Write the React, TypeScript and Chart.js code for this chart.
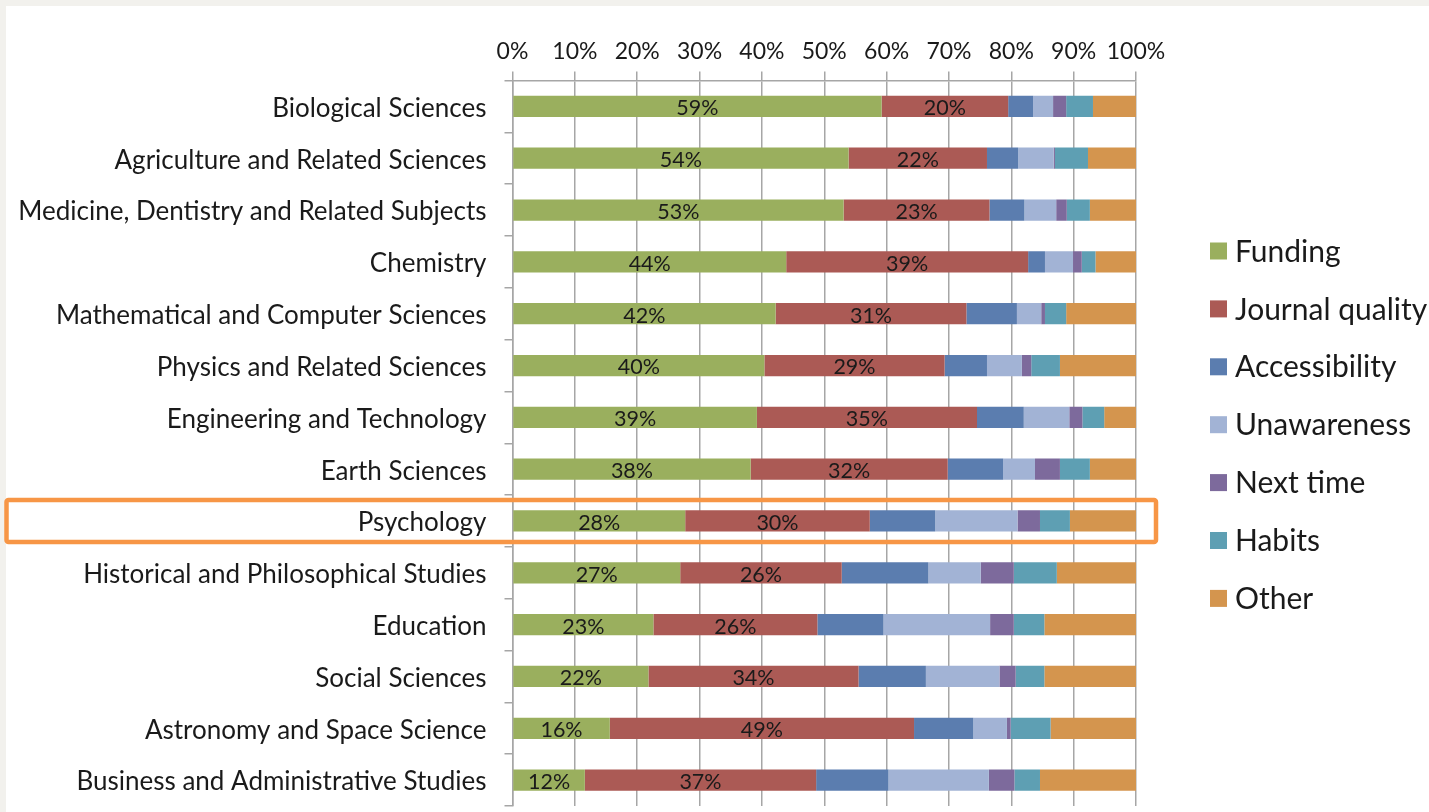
import React, { useEffect, useRef } from "react";
import { Chart, registerables } from "chart.js";

Chart.register(...registerables);

const categories = [
  "Biological Sciences",
  "Agriculture and Related Sciences",
  "Medicine, Dentistry and Related Subjects",
  "Chemistry",
  "Mathematical and Computer Sciences",
  "Physics and Related Sciences",
  "Engineering and Technology",
  "Earth Sciences",
  "Psychology",
  "Historical and Philosophical Studies",
  "Education",
  "Social Sciences",
  "Astronomy and Space Science",
  "Business and Administrative Studies",
];

const funding = [59.2, 53.9, 53.1, 43.9, 42.2, 40.4, 39.2, 38.2, 27.7, 26.9, 22.6, 21.8, 15.6, 11.6];
const journalQuality = [20.3, 22.2, 23.4, 38.8, 30.6, 28.9, 35.3, 31.6, 29.6, 25.9, 26.3, 33.7, 48.8, 37.1];
const accessibility = [4.0, 5.0, 5.6, 2.7, 8.1, 6.8, 7.5, 8.9, 10.5, 13.9, 10.6, 10.8, 9.5, 11.6];
const unawareness = [3.2, 5.7, 5.1, 4.5, 3.9, 5.6, 7.3, 5.1, 13.2, 8.4, 17.1, 11.8, 5.4, 16.1];
const nextTime = [2.1, 0.2, 1.7, 1.4, 0.6, 1.5, 2.1, 4.0, 3.6, 5.3, 3.8, 2.6, 0.6, 4.1];
const habits = [4.3, 5.3, 3.7, 2.2, 3.4, 4.6, 3.5, 4.8, 4.8, 6.9, 4.9, 4.6, 6.4, 4.1];
const other = [6.9, 7.7, 7.4, 6.5, 11.2, 12.2, 5.1, 7.4, 10.6, 12.7, 14.7, 14.7, 13.7, 15.4];

const seriesNames = ["Funding", "Journal quality", "Accessibility", "Unawareness", "Next time", "Habits", "Other"];
const seriesColors = ["#9aaf5e", "#ab5a55", "#5b7daf", "#a2b3d5", "#7d6a9c", "#5e9fb3", "#d4954e"];
const xTicks = [0, 10, 20, 30, 40, 50, 60, 70, 80, 90, 100];
const labelledSeries = [0, 1];
const highlightCategory = "Psychology";

const FONT = "Lato, 'Noto Sans', sans-serif";

const dataLabelPlugin = {
  id: "segmentLabels",
  afterDatasetsDraw(chart: any) {
    const ctx = chart.ctx;
    ctx.save();
    ctx.font = `21.5px ${FONT}`;
    ctx.fillStyle = "#1a1a1a";
    ctx.textAlign = "center";
    ctx.textBaseline = "middle";
    labelledSeries.forEach((di) => {
      const meta = chart.getDatasetMeta(di);
      meta.data.forEach((el: any, i: number) => {
        const v = chart.data.datasets[di].data[i] as number;
        const x = (el.x + el.base) / 2;
        ctx.fillText(`${Math.round(v)}%`, x, el.y + 2);
      });
    });
    ctx.restore();
  },
};

const sideLegendPlugin = {
  id: "sideLegend",
  afterDraw(chart: any) {
    const ctx = chart.ctx;
    const area = chart.chartArea;
    ctx.save();
    ctx.font = `30px ${FONT}`;
    ctx.textBaseline = "middle";
    ctx.textAlign = "left";
    const x0 = area.right + 74;
    const y0 = 251;
    const step = 57.9;
    chart.data.datasets.forEach((ds: any, i: number) => {
      const cy = y0 + i * step;
      ctx.fillStyle = ds.backgroundColor;
      ctx.fillRect(x0, cy - 8.5, 17, 17);
      ctx.fillStyle = "#1a1a1a";
      ctx.fillText(ds.label, x0 + 25, cy + 1);
    });
    ctx.restore();
  },
};

const highlightPlugin = {
  id: "highlightRow",
  afterDraw(chart: any) {
    const ctx = chart.ctx;
    const yScale = chart.scales.y;
    const idx = categories.indexOf(highlightCategory);
    const cy = yScale.getPixelForValue(idx);
    const left = 6.5;
    const right = chart.chartArea.right + 20;
    const top = cy - 21;
    const bottom = cy + 21;
    ctx.save();
    ctx.strokeStyle = "#f79646";
    ctx.lineWidth = 4.5;
    ctx.beginPath();
    if ((ctx as any).roundRect) {
      (ctx as any).roundRect(left, top, right - left, bottom - top, 2);
    } else {
      ctx.rect(left, top, right - left, bottom - top);
    }
    ctx.stroke();
    ctx.restore();
  },
};

export default function App() {
  const canvasRef = useRef<HTMLCanvasElement | null>(null);

  useEffect(() => {
    if (!canvasRef.current) return;
    const seriesData = [funding, journalQuality, accessibility, unawareness, nextTime, habits, other];
    const chart = new Chart(canvasRef.current, {
      type: "bar",
      data: {
        labels: categories,
        datasets: seriesNames.map((name, i) => ({
          label: name,
          data: seriesData[i],
          backgroundColor: seriesColors[i],
          borderWidth: 0,
          barPercentage: 0.41,
          categoryPercentage: 1,
        })),
      },
      options: {
        indexAxis: "y",
        responsive: false,
        animation: false,
        devicePixelRatio: 1,
        layout: { padding: { left: 0, top: 0, right: 293, bottom: 6 } },
        plugins: {
          legend: { display: false },
          tooltip: { enabled: false },
        },
        scales: {
          x: {
            type: "linear",
            position: "top",
            stacked: true,
            min: 0,
            max: 100,
            afterBuildTicks(scale: any) {
              scale.ticks = xTicks.map((v) => ({ value: v }));
            },
            afterFit(scale: any) {
              scale.height = 80.5;
            },
            ticks: {
              callback: (v: any) => `${v}%`,
              font: { family: FONT, size: 23 },
              color: "#1a1a1a",
              padding: 6,
              maxRotation: 0,
              autoSkip: false,
            },
            grid: {
              color: "#a6a6a6",
              lineWidth: 1.5,
              tickLength: 9,
              drawTicks: true,
            },
            border: { color: "#a6a6a6", width: 1.5 },
          },
          y: {
            type: "category",
            stacked: true,
            afterFit(scale: any) {
              scale.width = 512.5;
              scale.paddingTop = 0;
              scale.paddingBottom = 0;
            },
            ticks: {
              font: { family: FONT, size: 26 },
              color: "#1a1a1a",
              padding: 18,
              labelOffset: 2,
              autoSkip: false,
            },
            grid: {
              offset: true,
              drawOnChartArea: false,
              color: "#a6a6a6",
              lineWidth: 1.5,
              tickLength: 8,
            },
            border: { color: "#a6a6a6", width: 1.5 },
          },
        },
      },
      plugins: [dataLabelPlugin, sideLegendPlugin, highlightPlugin],
    });
    return () => chart.destroy();
  }, []);

  return (
    <div
      style={{
        position: "fixed",
        left: 0,
        top: 0,
        width: 1429,
        height: 812,
        background: "#f2f1ed",
        overflow: "hidden",
      }}
    >
      <div style={{ position: "absolute", left: 6, top: 6, right: 0, bottom: 0, background: "#ffffff" }} />
      <canvas
        ref={canvasRef}
        width={1429}
        height={812}
        style={{ position: "absolute", left: 0, top: 0, width: 1429, height: 812 }}
      />
    </div>
  );
}
